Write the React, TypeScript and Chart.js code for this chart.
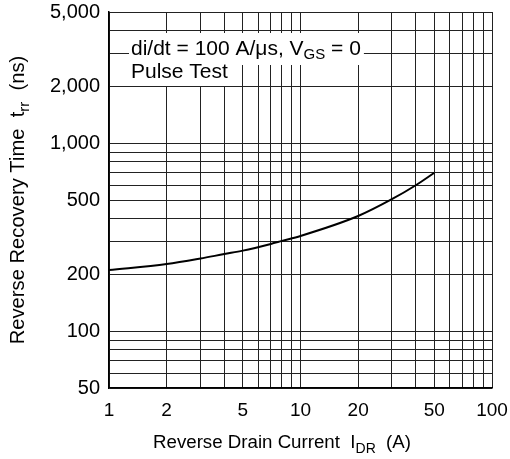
import React, { useEffect, useRef } from 'react';
import { Chart, registerables } from 'chart.js';

Chart.register(...registerables);

// ---- data ----
const currentA = [1, 2, 3, 4, 5, 7, 8, 10, 20, 30, 40, 50];
const trrNs = [212, 228, 244, 258, 269, 292, 303, 322, 411, 505, 599, 698];

const xGridValues = [1, 2, 3, 4, 5, 6, 7, 8, 9, 10, 20, 30, 40, 50, 60, 70, 80, 90, 100];
const yGridValues = [50, 60, 70, 80, 90, 100, 200, 300, 400, 500, 600, 700, 800, 900, 1000, 2000, 3000, 4000, 5000];
const xTickLabels = [1, 2, 5, 10, 20, 50, 100];
const yTickLabels = [50, 100, 200, 500, 1000, 2000, 5000];

const xTitle: [string, boolean][] = [['Reverse Drain Current  I', false], ['DR', true], ['  (A)', false]];
const yTitle: [string, boolean][] = [['Reverse Recovery Time  t', false], ['rr', true], ['  (ns)', false]];
const noteLine1: [string, boolean][] = [['di/dt = 100 A/\u03bcs, V', false], ['GS', true], [' = 0', false]];
const noteLine2 = 'Pulse Test';

const FONT = "'Liberation Sans', Arial, Helvetica, sans-serif";

function richWidth(ctx: CanvasRenderingContext2D, segs: [string, boolean][], size: number, subSize: number) {
  let w = 0;
  for (const [t, sub] of segs) {
    ctx.font = `${sub ? subSize : size}px ${FONT}`;
    w += ctx.measureText(t).width;
  }
  return w;
}

function drawRich(
  ctx: CanvasRenderingContext2D,
  segs: [string, boolean][],
  x: number,
  y: number,
  size: number,
  subSize: number,
  subDy: number
) {
  let cx = x;
  ctx.textAlign = 'left';
  ctx.textBaseline = 'alphabetic';
  for (const [t, sub] of segs) {
    ctx.font = `${sub ? subSize : size}px ${FONT}`;
    ctx.fillText(t, cx, sub ? y + subDy : y);
    cx += ctx.measureText(t).width;
  }
  return cx;
}

const decorPlugin = {
  id: 'decor',
  afterDraw(chart: any) {
    const ctx: CanvasRenderingContext2D = chart.ctx;
    const a = chart.chartArea;
    ctx.save();
    ctx.fillStyle = '#000';

    // annotation with white backgrounds
    const nSize = 21;
    const nSub = 15;
    const w1 = richWidth(ctx, noteLine1, nSize, nSub);
    ctx.font = `${nSize}px ${FONT}`;
    const w2 = ctx.measureText(noteLine2).width;
    const tx = a.left + 22;
    ctx.fillStyle = '#fff';
    ctx.fillRect(tx - 2, a.top + 21, w1 + 5, 32);
    ctx.fillRect(tx - 2, a.top + 52, w2 + 4, 22);
    ctx.fillStyle = '#000';
    drawRich(ctx, noteLine1, tx, a.top + 43, nSize, nSub, 4);
    ctx.font = `${nSize}px ${FONT}`;
    ctx.fillText(noteLine2, tx, a.top + 66);

    // x title
    const xSize = 18.7;
    const xSub = 14;
    drawRich(ctx, xTitle, a.left + 44, 448, xSize, xSub, 5);

    // y title (rotated)
    const ySize = 20.2;
    const ySub = 15;
    const yw = richWidth(ctx, yTitle, ySize, ySub);
    ctx.translate(24, (a.top + a.bottom) / 2);
    ctx.rotate(-Math.PI / 2);
    drawRich(ctx, yTitle, -yw / 2, 0, ySize, ySub, 5);
    ctx.restore();
  },
};

export default function App() {
  const ref = useRef<HTMLCanvasElement | null>(null);

  useEffect(() => {
    document.body.style.margin = '0';
    const canvas = ref.current!;
    Chart.defaults.font.family = FONT;
    const chart = new Chart(canvas, {
      type: 'line',
      data: {
        datasets: [
          {
            data: currentA.map((x, i) => ({ x, y: trrNs[i] })),
            borderColor: '#000',
            borderWidth: 2,
            pointRadius: 0,
            cubicInterpolationMode: 'monotone',
            fill: false,
          },
        ],
      },
      options: {
        responsive: false,
        maintainAspectRatio: false,
        animation: false,
        devicePixelRatio: 1,
        layout: { padding: { left: 0, right: 18, top: 12, bottom: 0 } },
        plugins: { legend: { display: false }, tooltip: { enabled: false } },
        scales: {
          x: {
            type: 'logarithmic',
            min: 1,
            max: 100,
            afterBuildTicks: (s: any) => {
              s.ticks = xGridValues.map((v) => ({ value: v }));
            },
            afterFit: (s: any) => {
              s.height = 71;
              s.paddingLeft = 0;
              s.paddingRight = 0;
            },
            grid: { color: '#222', lineWidth: 1, drawTicks: false },
            border: { color: '#000', width: 1.5 },
            ticks: {
              autoSkip: false,
              maxRotation: 0,
              padding: 11,
              color: '#000',
              font: { size: 19 },
              callback: (v: any) => (xTickLabels.includes(Number(v)) ? String(v) : ''),
            },
          },
          y: {
            type: 'logarithmic',
            min: 50,
            max: 5000,
            afterBuildTicks: (s: any) => {
              s.ticks = yGridValues.map((v) => ({ value: v }));
            },
            afterFit: (s: any) => {
              s.width = 109;
              s.paddingTop = 0;
              s.paddingBottom = 0;
            },
            grid: { color: '#222', lineWidth: 1, drawTicks: false },
            border: { color: '#000', width: 1.5 },
            ticks: {
              autoSkip: false,
              padding: 9,
              color: '#000',
              font: { size: 20 },
              callback: (v: any) =>
                yTickLabels.includes(Number(v)) ? Number(v).toLocaleString('en-US') : '',
            },
          },
        },
      },
      plugins: [decorPlugin],
    } as any);
    return () => chart.destroy();
  }, []);

  return (
    <div style={{ position: 'fixed', left: 0, top: 0, width: 510, height: 459, background: '#fff' }}>
      <canvas ref={ref} width={510} height={459} />
    </div>
  );
}
